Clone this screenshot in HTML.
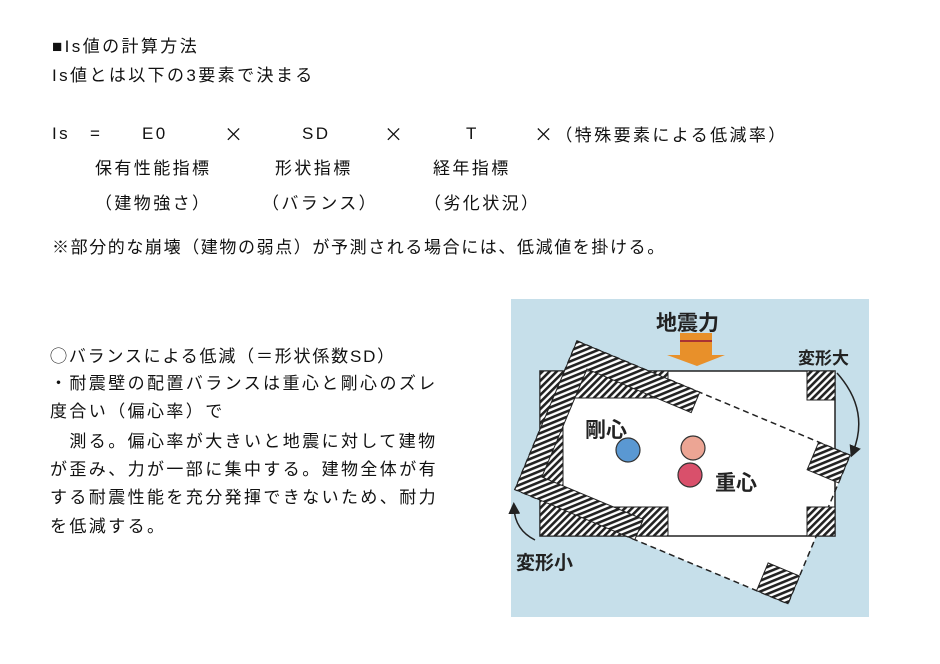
<!DOCTYPE html>
<html><head><meta charset="utf-8"><style>
body{margin:0;width:940px;height:664px;background:#fff;position:relative;overflow:hidden;font-family:"Liberation Sans","Noto Sans CJK JP",sans-serif;color:#111}
.t{position:absolute;font-size:17px;letter-spacing:2.4px;white-space:nowrap;line-height:20px}
.x{font-family:"Noto Sans CJK JP",sans-serif;font-size:19px}
</style></head><body>
<div class="t" style="left:52px;top:37px">■Is値の計算方法</div>
<div class="t" style="left:52px;top:66px">Is値とは以下の3要素で決まる</div>
<div class="t" style="left:52px;top:124px">Is</div>
<div class="t" style="left:90px;top:124px">=</div>
<div class="t" style="left:142px;top:124px">E0</div>
<div class="t" style="left:224px;top:124px"><span class="x">×</span></div>
<div class="t" style="left:302px;top:124px">SD</div>
<div class="t" style="left:384px;top:124px"><span class="x">×</span></div>
<div class="t" style="left:466px;top:124px">T</div>
<div class="t" style="left:534px;top:124px"><span class="x">×</span>（特殊要素による低減率）</div>
<div class="t" style="left:95px;top:159px">保有性能指標</div>
<div class="t" style="left:275px;top:159px">形状指標</div>
<div class="t" style="left:433px;top:159px">経年指標</div>
<div class="t" style="left:95px;top:194px">（建物強さ）</div>
<div class="t" style="left:262px;top:194px">（バランス）</div>
<div class="t" style="left:424px;top:194px">（劣化状況）</div>
<div class="t" style="left:52px;top:238px;letter-spacing:1.6px">※部分的な崩壊（建物の弱点）が予測される場合には、低減値を掛ける。</div>

<div class="t" style="left:50px;top:347px;letter-spacing:1.8px">◯バランスによる低減（＝形状係数SD）</div>
<div class="t" style="left:50px;top:374px">・耐震壁の配置バランスは重心と剛心のズレ</div>
<div class="t" style="left:50px;top:402px">度合い（偏心率）で</div>
<div class="t" style="left:50px;top:432px">　測る。偏心率が大きいと地震に対して建物</div>
<div class="t" style="left:50px;top:460px">が歪み、力が一部に集中する。建物全体が有</div>
<div class="t" style="left:50px;top:488px">する耐震性能を充分発揮できないため、耐力</div>
<div class="t" style="left:50px;top:517px">を低減する。</div>

<svg style="position:absolute;left:0;top:0" width="940" height="664">
<defs>
<pattern id="h" width="5" height="5" patternUnits="userSpaceOnUse" patternTransform="rotate(45)">
<rect width="5" height="5" fill="#fff"/><rect width="2.6" height="5" fill="#222"/></pattern>
<marker id="a" markerWidth="8" markerHeight="8" refX="4" refY="4" orient="auto"><path d="M0,0 L8,4 L0,8z" fill="#222"/></marker>
</defs>
<rect x="511" y="299" width="358" height="318" fill="#c6dfea"/>
<rect x="540" y="371" width="295" height="165" fill="#fff"/>
<g transform="translate(577,341) rotate(22.7)">
<rect x="0" y="0" width="296" height="161" fill="#fff" stroke="#222" stroke-width="1.5" stroke-dasharray="6,4"/>
</g>
<rect x="540" y="371" width="295" height="165" fill="none" stroke="#222" stroke-width="1.5"/>
<path d="M540,371 H668 V398 H563 V507 H668 V536 H540Z" fill="url(#h)" stroke="#222"/>
<g transform="translate(577,341) rotate(22.7)">
<path d="M0,0 H133 V22 H20 V139 H130 V161 H0Z" fill="url(#h)" stroke="#222"/>
<rect x="262" y="0" width="34" height="30" fill="url(#h)" stroke="#222"/>
<rect x="262" y="131" width="34" height="30" fill="url(#h)" stroke="#222"/>
</g>
<rect x="807" y="371" width="28" height="29" fill="url(#h)" stroke="#222"/>
<rect x="807" y="507" width="28" height="29" fill="url(#h)" stroke="#222"/>
<rect x="680" y="333" width="32" height="22" fill="#e8902a"/>
<rect x="680" y="340" width="32" height="2" fill="#a33"/>
<path d="M667,355 H725 L697,366Z" fill="#e8902a"/>
<circle cx="628" cy="450" r="12" fill="#5a98d2" stroke="#333" stroke-width="1.2"/>
<circle cx="693" cy="448" r="12" fill="#eca594" stroke="#333" stroke-width="1.2"/>
<circle cx="690" cy="475" r="12" fill="#d9506b" stroke="#333" stroke-width="1.2"/>
<path d="M837,373 Q870,410 853,452" fill="none" stroke="#222" stroke-width="1.5" marker-end="url(#a)"/>
<path d="M535,540 Q515,530 514,508" fill="none" stroke="#222" stroke-width="1.5" marker-end="url(#a)"/>
<g font-family="Liberation Sans,Noto Sans CJK JP,sans-serif" font-weight="bold" fill="#222">
<text x="656" y="330" font-size="21">地震力</text>
<text x="798" y="364" font-size="17">変形大</text>
<text x="516" y="569" font-size="19">変形小</text>
<text x="585" y="437" font-size="21">剛心</text>
<text x="715" y="490" font-size="21">重心</text>
</g>
</svg>
</body></html>
